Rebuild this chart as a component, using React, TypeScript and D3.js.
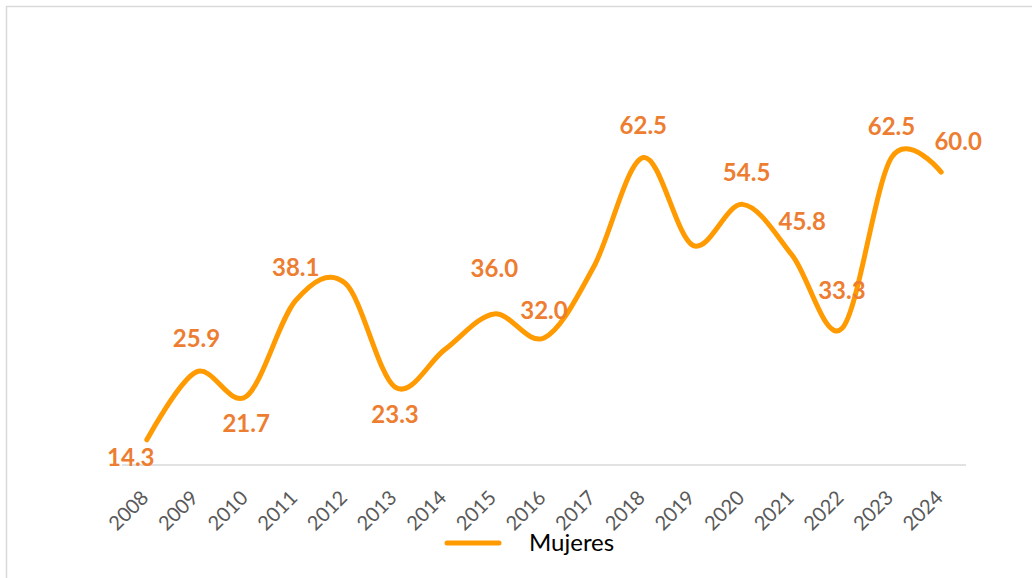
import React from 'react';
import * as d3 from 'd3';

const years = ['2008', '2009', '2010', '2011', '2012', '2013', '2014', '2015', '2016', '2017', '2018', '2019', '2020', '2021', '2022', '2023', '2024'];
const mujeres = [14.3, 25.9, 21.7, 38.1, 41.0, 23.3, 29.7, 35.8, 31.7, 43.8, 62.5, 47.5, 54.5, 45.8, 33.3, 62.5, 60.0];
// null means the point carries no label in the original
const labels = ['14.3', '25.9', '21.7', '38.1', null, '23.3', null, '36.0', '32.0', null, '62.5', null, '54.5', '45.8', '33.3', '62.5', '60.0'];
// label offset from its point [dx, dy]
const labelOffsets = [[-16, 18], [0, -34], [0, 27], [0, -33], [0, 0], [0, 27], [0, 0], [0, -46], [0, -28], [0, 0], [0, -32], [0, 0], [4, -32], [10, -34], [0, -38], [0, -31], [17, -31]];
const yDomain = [10, 70];

const WIDTH = 1032;
const HEIGHT = 578;
const LINE_COLOR = '#FF9A00';
const LABEL_COLOR = '#ED7D31';

const App = () => {
    const axisY = 465;
    const x = d3.scaleBand<string>()
        .domain(years)
        .range([122, 966])
        .padding(0);
    const cx = (d: string) => (x(d) as number) + x.bandwidth() / 2;

    const y = d3.scaleLinear()
        .domain(yDomain)
        .range([axisY, 113.6]);

    const line = d3.line<number>()
        .x((_, i) => cx(years[i]))
        .y(d => y(d))
        .curve(d3.curveCardinal.tension(0));

    return (
        <svg
            width={WIDTH}
            height={HEIGHT}
            style={{ position: 'absolute', left: 0, top: 0, display: 'block', background: '#fff' }}
        >
            {/* chart frame, runs off the right and bottom edges */}
            <rect x={6.5} y={6.5} width={WIDTH + 20} height={HEIGHT + 20} fill="#fff" stroke="#D9D9D9" strokeWidth={1.5} />

            {/* category axis */}
            <line x1={122} x2={966} y1={axisY} y2={axisY} stroke="#D9D9D9" strokeWidth={1.5} />
            {years.map(d => (
                <text
                    key={d}
                    transform={`translate(${cx(d) + 3},${axisY + 34}) rotate(-45)`}
                    textAnchor="end"
                    fontFamily="Lato, 'Open Sans', sans-serif"
                    fontSize={20}
                    fill="#595959"
                >
                    {d}
                </text>
            ))}

            <path d={line(mujeres) || ''} fill="none" stroke={LINE_COLOR} strokeWidth={5} strokeLinecap="round" strokeLinejoin="round" />

            {/* data labels */}
            {labels.map((lab, i) => lab === null ? null : (
                <text
                    key={years[i]}
                    x={cx(years[i]) + labelOffsets[i][0]}
                    y={y(mujeres[i]) + labelOffsets[i][1]}
                    dy="0.36em"
                    textAnchor="middle"
                    fontFamily="Lato, 'Open Sans', sans-serif"
                    fontWeight={700}
                    fontSize={24}
                    fill={LABEL_COLOR}
                >
                    {lab}
                </text>
            ))}

            {/* legend */}
            <line x1={447} x2={499} y1={543} y2={543} stroke={LINE_COLOR} strokeWidth={5} strokeLinecap="round" />
            <text x={529} y={551} fontFamily="Lato, 'Open Sans', sans-serif" fontSize={24} fill="#000">
                Mujeres
            </text>
        </svg>
    );
};

export default App;
